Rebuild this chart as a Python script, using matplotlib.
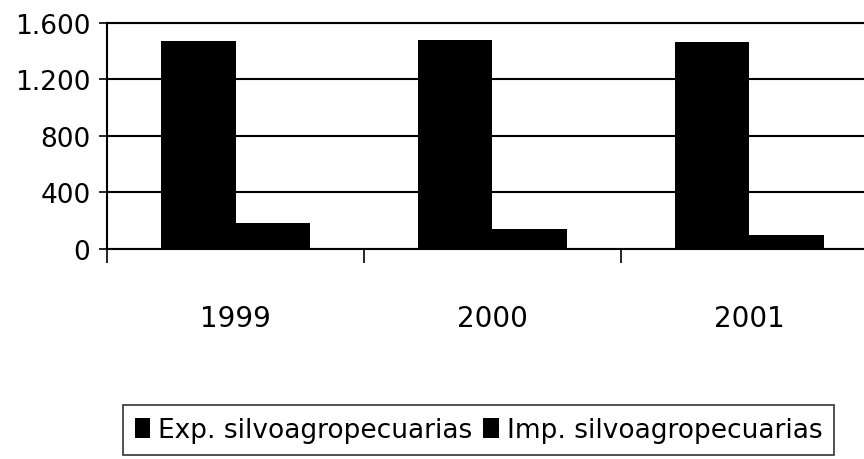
import numpy as np
import matplotlib.pyplot as plt

# values
years = ["1999", "2000", "2001"]
exp_vals = [1475, 1482, 1462]
imp_vals = [180, 137, 99]
series_names = ["Exp. silvoagropecuarias", "Imp. silvoagropecuarias"]
y_ticks = [0, 400, 800, 1200, 1600]
y_tick_labels = ["0", "400", "800", "1.200", "1.600"]

plt.rcParams['font.family'] = ['DejaVu Sans']

fig = plt.figure(figsize=(8.64, 4.60), dpi=100)
ax = fig.add_axes([0.124, 0.457, 0.892, 0.491])

x = np.arange(len(years))
w = 0.29
ax.bar(x - w / 2, exp_vals, w, color="black", label=series_names[0], zorder=3)
ax.bar(x + w / 2, imp_vals, w, color="black", label=series_names[1], zorder=3)

ax.set_xlim(-0.5, len(years) - 0.5)
ax.set_ylim(0, 1600)
ax.set_yticks(y_ticks)
ax.set_yticklabels(y_tick_labels, fontsize=19)
ax.yaxis.grid(True, color="black", linewidth=1.5, zorder=0)

# category ticks sit on the boundaries, labels centred under the groups
ax.set_xticks(np.arange(len(years) + 1) - 0.5)
ax.set_xticklabels([])
ax.set_xticks(x, minor=True)
ax.set_xticklabels(years, minor=True, fontsize=20)
ax.tick_params(axis="x", which="major", length=10, width=1.2, direction="out")
ax.tick_params(axis="x", which="minor", length=0, pad=40)
ax.tick_params(axis="y", length=6, width=1.2, pad=6)

for s in ["top", "left", "bottom"]:
    ax.spines[s].set_linewidth(1.5)
    ax.spines[s].set_color("black")
ax.spines["right"].set_visible(False)

leg = fig.legend(loc="upper left", bbox_to_anchor=(0.142, 0.117), ncol=2,
                 fontsize=19, frameon=True, fancybox=False, edgecolor="black",
                 handlelength=0.6, handleheight=0.8, handletextpad=0.3,
                 columnspacing=0.4, borderpad=0.45, borderaxespad=0)
leg.get_frame().set_linewidth(1.2)

fig.savefig("out.png", dpi=100)
